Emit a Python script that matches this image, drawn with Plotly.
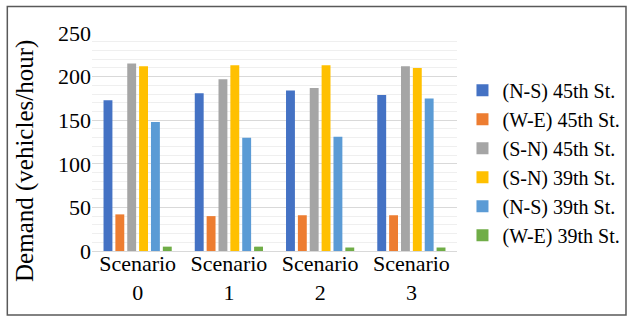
import plotly.graph_objects as go

categories = ["Scenario<br>0", "Scenario<br>1", "Scenario<br>2", "Scenario<br>3"]
series_names = ["(N-S) 45th St.", "(W-E) 45th St.", "(S-N) 45th St.",
                "(S-N) 39th St.", "(N-S) 39th St.", "(W-E) 39th St."]
y_title = "Demand (vehicles/hour)"
ns_45 = [173, 181, 184, 179]
we_45 = [42, 40, 41, 41]
sn_45 = [215, 197, 187, 212]
sn_39 = [212, 213, 213, 210]
ns_39 = [148, 130, 131, 175]
we_39 = [5, 5, 4, 4]
colors = ["#4472C4", "#ED7D31", "#A5A5A5", "#FFC000", "#5B9BD5", "#70AD47"]

fig = go.Figure()
for name, vals, c in zip(series_names, [ns_45, we_45, sn_45, sn_39, ns_39, we_39], colors):
    fig.add_trace(go.Bar(x=categories, y=vals, name=name, marker_color=c,
                         marker_line_width=0))

font_family = "Liberation Serif"
fig.update_layout(
    width=635, height=326,
    margin=dict(l=92, r=178, t=33, b=75, autoexpand=False),
    paper_bgcolor="white", plot_bgcolor="white",
    barmode="group", bargap=0.22, bargroupgap=0.25,
    font=dict(family=font_family, color="#000000"),
    legend=dict(x=1.015, y=0.405, xanchor="left", yanchor="middle",
                font=dict(size=20, family=font_family),
                itemwidth=30, tracegroupgap=0),
    showlegend=True,
)
fig.update_yaxes(range=[0, 250], dtick=50, showgrid=True, gridcolor="#d9d9d9",
                 gridwidth=1, zeroline=False, showline=False, automargin=False,
                 tickfont=dict(size=22, family=font_family),
                 minor=dict(dtick=10, showgrid=True, gridcolor="#efefef", gridwidth=1))
fig.update_xaxes(showline=True, linecolor="#d9d9d9", linewidth=1, automargin=False,
                 tickfont=dict(size=22, family=font_family), ticks="",
                 ticklabelstandoff=-7)
fig.add_annotation(text=y_title, xref="paper", yref="paper", x=-0.1836, y=0.413,
                   xanchor="center", yanchor="middle", textangle=-90, showarrow=False,
                   font=dict(size=25, family=font_family, color="#000000"))
fig.add_shape(type="rect", xref="paper", yref="paper",
              x0=-0.232, x1=1.463, y0=-0.294, y1=1.121,
              line=dict(color="#595959", width=1.5), fillcolor="rgba(0,0,0,0)")
fig.write_html("out.html", config={"displayModeBar": False},
               post_script="document.body.style.margin='0';document.body.style.padding='0';")
